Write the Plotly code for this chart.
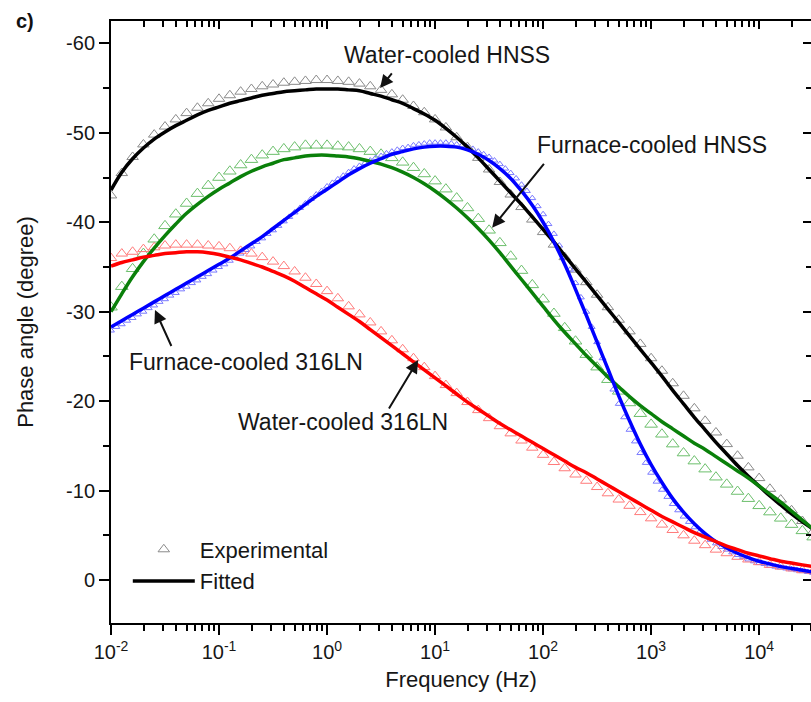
import plotly.graph_objects as go

# log10(frequency / Hz) grid of the measurements
log_f = [-2.0, -1.9, -1.8, -1.7, -1.6, -1.5, -1.4, -1.3, -1.2, -1.1,
         -1.0, -0.9, -0.8, -0.7, -0.6, -0.5, -0.4, -0.3, -0.2, -0.1,
         0.0, 0.1, 0.2, 0.3, 0.4, 0.5, 0.6, 0.7, 0.8, 0.9,
         1.0, 1.1, 1.2, 1.3, 1.4, 1.5, 1.6, 1.7, 1.8, 1.9,
         2.0, 2.1, 2.2, 2.3, 2.4, 2.5, 2.6, 2.7, 2.8, 2.9,
         3.0, 3.1, 3.2, 3.3, 3.4, 3.5, 3.6, 3.7, 3.8, 3.9,
         4.0, 4.1, 4.2, 4.3, 4.4, 4.5]

log_f_dense = [-2.0, -1.95, -1.9, -1.85, -1.8, -1.75, -1.7, -1.65, -1.6, -1.55,
               -1.5, -1.45, -1.4, -1.35, -1.3, -1.25, -1.2, -1.15, -1.1, -1.05,
               -1.0, -0.95, -0.9, -0.85, -0.8, -0.75, -0.7, -0.65, -0.6, -0.55,
               -0.5, -0.45, -0.4, -0.35, -0.3, -0.25, -0.2, -0.15, -0.1, -0.05,
               0.0, 0.05, 0.1, 0.15, 0.2, 0.25, 0.3, 0.35, 0.4, 0.45,
               0.5, 0.55, 0.6, 0.65, 0.7, 0.75, 0.8, 0.85, 0.9, 0.95,
               1.0, 1.05, 1.1, 1.15, 1.2, 1.25, 1.3, 1.35, 1.4, 1.45,
               1.5, 1.55, 1.6, 1.65, 1.7, 1.75, 1.8, 1.85, 1.9, 1.95,
               2.0, 2.05, 2.1, 2.15, 2.2, 2.25, 2.3, 2.35, 2.4, 2.45,
               2.5, 2.55, 2.6, 2.65, 2.7, 2.75, 2.8, 2.85, 2.9, 2.95,
               3.0, 3.05, 3.1, 3.15, 3.2, 3.25, 3.3, 3.35, 3.4, 3.45,
               3.5, 3.55, 3.6, 3.65, 3.7, 3.75, 3.8, 3.85, 3.9, 3.95,
               4.0, 4.05, 4.1, 4.15, 4.2, 4.25, 4.3, 4.35, 4.4, 4.45, 4.5]

# Water-cooled HNSS
wc_hnss_exp = [-43.0, -45.5, -47.3, -48.7, -49.8, -50.7, -51.5, -52.2, -52.8, -53.3,
               -53.8, -54.2, -54.6, -54.9, -55.2, -55.4, -55.6, -55.7, -55.8, -55.9,
               -55.9, -55.8, -55.7, -55.5, -55.2, -54.8, -54.3, -53.7, -53.0, -52.3,
               -51.5, -50.6, -49.5, -48.4, -47.2, -45.9, -44.5, -43.1, -41.7, -40.3,
               -38.9, -37.5, -36.1, -34.7, -33.3, -31.9, -30.5, -29.1, -27.8, -26.4,
               -24.8, -23.4, -22.0, -20.6, -19.2, -17.8, -16.5, -15.2, -13.9, -12.6,
               -11.4, -10.2, -9.0, -7.8, -6.6, -5.4]
wc_hnss_fit = [-43.6, -45.6, -47.1, -48.3, -49.3, -50.1, -50.8, -51.4, -52.0, -52.5,
               -52.9, -53.3, -53.6, -53.9, -54.2, -54.4, -54.6, -54.7, -54.8, -54.9,
               -54.9, -54.9, -54.8, -54.7, -54.4, -54.1, -53.7, -53.3, -52.7, -52.1,
               -51.4, -50.5, -49.5, -48.4, -47.2, -45.9, -44.6, -43.3, -42.0, -40.6,
               -39.2, -37.8, -36.3, -34.8, -33.3, -31.8, -30.3, -28.8, -27.3, -25.8,
               -24.3, -22.8, -21.2, -19.7, -18.2, -16.8, -15.4, -14.1, -12.8, -11.6,
               -10.5, -9.4, -8.4, -7.4, -6.5, -5.7]

# Furnace-cooled HNSS
fc_hnss_exp = [-30.5, -32.8, -34.8, -36.5, -38.1, -39.6, -40.9, -42.1, -43.2, -44.1,
               -45.0, -45.7, -46.4, -47.0, -47.5, -47.9, -48.2, -48.4, -48.6, -48.6,
               -48.6, -48.5, -48.4, -48.2, -47.9, -47.6, -47.2, -46.7, -46.1, -45.4,
               -44.6, -43.7, -42.7, -41.6, -40.4, -39.1, -37.7, -36.2, -34.6, -33.0,
               -31.4, -29.8, -28.2, -26.7, -25.2, -23.8, -22.4, -21.1, -19.8, -18.6,
               -17.4, -16.3, -15.2, -14.2, -13.3, -12.4, -11.5, -10.7, -9.9, -9.1,
               -8.3, -7.6, -6.9, -6.2, -5.5, -4.8]
fc_hnss_fit = [-30.0, -32.0, -33.9, -35.6, -37.1, -38.5, -39.8, -41.0, -42.0, -42.9,
               -43.7, -44.4, -45.1, -45.7, -46.2, -46.6, -47.0, -47.2, -47.4, -47.5,
               -47.5, -47.4, -47.3, -47.1, -46.8, -46.5, -46.1, -45.6, -45.0, -44.3,
               -43.5, -42.6, -41.6, -40.5, -39.3, -38.0, -36.6, -35.1, -33.6, -32.1,
               -30.6, -29.1, -27.7, -26.4, -25.1, -23.9, -22.7, -21.6, -20.5, -19.5,
               -18.6, -17.7, -16.9, -16.1, -15.3, -14.6, -13.8, -13.0, -12.2, -11.4,
               -10.5, -9.6, -8.7, -7.7, -6.7, -5.7]

# Furnace-cooled 316LN (dense measurement)
fc_316_exp = [-27.9, -28.3, -28.6, -29.0, -29.3, -29.7, -30.0, -30.4, -30.7, -31.1,
              -31.4, -31.8, -32.1, -32.5, -32.8, -33.2, -33.5, -33.9, -34.2, -34.6,
              -35.0, -35.3, -35.7, -36.1, -36.5, -36.9, -37.3, -37.8, -38.2, -38.7,
              -39.1, -39.6, -40.1, -40.6, -41.1, -41.6, -42.1, -42.6, -43.1, -43.5,
              -44.0, -44.4, -44.8, -45.2, -45.6, -46.0, -46.3, -46.6, -46.9, -47.2,
              -47.4, -47.7, -47.9, -48.1, -48.3, -48.4, -48.6, -48.7, -48.8, -48.9,
              -48.9, -48.9, -48.9, -48.8, -48.7, -48.6, -48.4, -48.2, -47.9, -47.6,
              -47.3, -46.9, -46.5, -46.0, -45.5, -44.9, -44.2, -43.5, -42.7, -41.8,
              -40.9, -39.8, -38.7, -37.4, -36.1, -34.7, -33.2, -31.6, -30.0, -28.3,
              -26.6, -24.8, -23.0, -21.3, -19.7, -18.2, -16.8, -15.5, -14.2, -13.1,
              -12.0, -11.0, -10.1, -9.3, -8.5, -7.8, -7.1, -6.5, -5.9, -5.4,
              -4.9, -4.5, -4.1, -3.7, -3.4, -3.1, -2.8, -2.6, -2.3, -2.1,
              -1.9, -1.8, -1.6, -1.5, -1.4, -1.3, -1.2, -1.1, -1.0, -0.9, -0.8]
fc_316_fit = [-28.3, -29.0, -29.7, -30.4, -31.1, -31.8, -32.5, -33.2, -33.9, -34.6,
              -35.3, -36.0, -36.8, -37.6, -38.4, -39.3, -40.2, -41.1, -42.0, -42.9,
              -43.7, -44.5, -45.3, -46.0, -46.6, -47.1, -47.6, -47.9, -48.2, -48.4,
              -48.5, -48.5, -48.4, -48.1, -47.6, -46.9, -46.0, -44.9, -43.5, -41.9,
              -40.0, -37.8, -35.3, -32.5, -29.6, -26.6, -23.6, -20.6, -17.8, -15.2,
              -12.9, -10.9, -9.1, -7.6, -6.3, -5.2, -4.3, -3.6, -3.0, -2.5,
              -2.1, -1.8, -1.5, -1.3, -1.1, -0.9]

# Water-cooled 316LN
wc_316_exp = [-36.0, -36.5, -36.7, -37.0, -37.2, -37.4, -37.5, -37.5, -37.5, -37.4,
              -37.3, -37.1, -36.8, -36.5, -36.1, -35.6, -35.1, -34.5, -33.8, -33.1,
              -32.3, -31.5, -30.6, -29.7, -28.8, -27.8, -26.8, -25.8, -24.8, -23.8,
              -22.8, -21.8, -20.9, -19.9, -19.0, -18.1, -17.2, -16.4, -15.6, -14.8,
              -14.0, -13.2, -12.5, -11.8, -11.1, -10.4, -9.7, -9.0, -8.3, -7.6,
              -6.9, -6.2, -5.6, -5.0, -4.4, -3.9, -3.4, -3.0, -2.6, -2.3,
              -2.0, -1.7, -1.5, -1.3, -1.1, -1.0]
wc_316_fit = [-35.1, -35.5, -35.8, -36.1, -36.3, -36.5, -36.6, -36.7, -36.7, -36.6,
              -36.4, -36.1, -35.8, -35.4, -35.0, -34.5, -34.0, -33.4, -32.7, -32.0,
              -31.3, -30.5, -29.7, -28.9, -28.0, -27.1, -26.2, -25.3, -24.4, -23.5,
              -22.6, -21.7, -20.8, -19.9, -19.1, -18.3, -17.5, -16.8, -16.1, -15.4,
              -14.7, -14.0, -13.3, -12.6, -12.0, -11.3, -10.6, -9.9, -9.2, -8.5,
              -7.8, -7.1, -6.5, -5.9, -5.3, -4.8, -4.3, -3.8, -3.4, -3.0,
              -2.7, -2.4, -2.1, -1.9, -1.7, -1.5]

x_tick_vals = [0.01, 0.1, 1, 10, 100, 1000, 10000]
x_tick_text = ["10<sup>-2</sup>", "10<sup>-1</sup>", "10<sup>0</sup>", "10<sup>1</sup>",
               "10<sup>2</sup>", "10<sup>3</sup>", "10<sup>4</sup>"]
x_minor_vals = [m * d for d in [0.01, 0.1, 1, 10, 100, 1000, 10000]
                for m in [2, 3, 4, 5, 6, 7, 8, 9]]
y_tick_vals = [-60, -50, -40, -30, -20, -10, 0]
y_tick_text = ["-60", "-50", "-40", "-30", "-20", "-10", "0"]
y_minor_vals = [-55, -45, -35, -25, -15, -5]

freq = [10 ** v for v in log_f]
freq_dense = [10 ** v for v in log_f_dense]

FONT = "Liberation Sans, Arial, Helvetica, sans-serif"
TXT = "#161616"

series = [
    # name, exp values, exp x, fit values, line colour, marker colour, marker size
    ("Water-cooled HNSS", wc_hnss_exp, freq, wc_hnss_fit, "#000000", "#8a8a8a", 10),
    ("Furnace-cooled HNSS", fc_hnss_exp, freq, fc_hnss_fit, "#0a800a", "#6cbf6c", 11),
    ("Furnace-cooled 316LN", fc_316_exp, freq_dense, fc_316_fit, "#0000ff", "#7a7aff", 6),
    ("Water-cooled 316LN", wc_316_exp, freq, wc_316_fit, "#ff0000", "#ff7a7a", 10),
]

fig = go.Figure()
for name, ey, ex, fy, lc, mc, ms in series:
    fig.add_trace(go.Scatter(x=ex, y=ey, mode="markers", name=name + " exp",
                             showlegend=False,
                             marker=dict(symbol="triangle-up-open", size=ms, color=mc,
                                         line=dict(width=1, color=mc))))
for name, ey, ex, fy, lc, mc, ms in series:
    fig.add_trace(go.Scatter(x=freq, y=fy, mode="lines", name=name + " fit",
                             showlegend=False,
                             line=dict(color=lc, width=3.5, shape="spline")))

# legend entries
fig.add_trace(go.Scatter(x=[None], y=[None], mode="markers", name="Experimental",
                         marker=dict(symbol="triangle-up-open", size=10, color="#8a8a8a",
                                     line=dict(width=1, color="#8a8a8a"))))
fig.add_trace(go.Scatter(x=[None], y=[None], mode="lines", name="Fitted",
                         line=dict(color="#000000", width=3.5)))

# transparent trace that carries the mirrored (top / right) axes
fig.add_trace(go.Scatter(x=[1], y=[-30], xaxis="x2", yaxis="y2", mode="markers",
                         marker=dict(opacity=0), showlegend=False, hoverinfo="skip"))

XR = [-2, 4.48]
YR = [4.8, -62.5]
axis_common = dict(showgrid=False, zeroline=False, showline=True, linecolor="black",
                   linewidth=2, tickcolor="black", tickwidth=2)

fig.update_layout(
    width=811, height=702,
    margin=dict(l=111, r=0, t=21, b=79),
    paper_bgcolor="white", plot_bgcolor="white",
    font=dict(family=FONT, size=20, color=TXT),
    xaxis=dict(type="log", range=XR, tickmode="array", tickvals=x_tick_vals,
               ticktext=x_tick_text, ticks="outside", ticklen=10,
               tickfont=dict(size=20),
               minor=dict(ticks="outside", ticklen=6, tickwidth=1.5, tickcolor="black",
                          tickmode="array", tickvals=x_minor_vals, showgrid=False),
               title=dict(text="Frequency (Hz)", font=dict(size=22), standoff=10),
               **axis_common),
    yaxis=dict(range=YR, tickmode="array", tickvals=y_tick_vals, ticktext=y_tick_text,
               ticks="outside", ticklen=10, tickfont=dict(size=20),
               minor=dict(ticks="outside", ticklen=6, tickwidth=1.5, tickcolor="black",
                          tickmode="array", tickvals=y_minor_vals, showgrid=False),
               title=dict(text="Phase angle (degree)", font=dict(size=22), standoff=26),
               **axis_common),
    xaxis2=dict(type="log", range=XR, overlaying="x", side="top", anchor="y2",
                tickmode="array", tickvals=x_tick_vals, showticklabels=False,
                ticks="inside", ticklen=8,
                minor=dict(ticks="inside", ticklen=6, tickwidth=1.5, tickcolor="black",
                           tickmode="array", tickvals=x_minor_vals, showgrid=False),
                **axis_common),
    yaxis2=dict(range=YR, overlaying="y", side="right", anchor="x2",
                tickmode="array", tickvals=y_tick_vals, showticklabels=False,
                ticks="inside", ticklen=8,
                minor=dict(ticks="inside", ticklen=5, tickwidth=1.5, tickcolor="black",
                           tickmode="array", tickvals=y_minor_vals, showgrid=False),
                **axis_common),
    legend=dict(x=0.024, y=0.157, xanchor="left", yanchor="top",
                bgcolor="rgba(0,0,0,0)", font=dict(size=22, color=TXT),
                tracegroupgap=0, itemwidth=62),
    showlegend=True,
)

ann_font = dict(family=FONT, size=23, color=TXT)
labels = [
    # text, text x (log10 Hz), text y, arrow tail x, tail y, tip x, tip y
    ("Water-cooled HNSS", 1.11, -58.7, 0.611, -56.8, 0.491, -55.0),
    ("Furnace-cooled HNSS", 3.01, -48.6, 2.019, -46.7, 1.528, -39.4),
    ("Furnace-cooled 316LN", -0.75, -24.4, -1.435, -26.0, -1.593, -30.2),
    ("Water-cooled 316LN", 0.148, -17.7, 0.565, -19.0, 0.843, -24.6),
]
for txt, tx, ty, ax_, ay_, hx, hy in labels:
    fig.add_annotation(x=tx, y=ty, xref="x", yref="y", text=txt, showarrow=False,
                       font=ann_font, xanchor="center", yanchor="middle")
    fig.add_annotation(x=hx, y=hy, xref="x", yref="y", ax=ax_, ay=ay_, axref="x",
                       ayref="y", text="", showarrow=True, arrowhead=2, arrowsize=1.3,
                       arrowwidth=2, arrowcolor="#111111")

fig.add_annotation(x=-0.123, y=1.0, xref="paper", yref="paper", text="<b>c)</b>",
                   showarrow=False, font=dict(family=FONT, size=20, color="#111111"),
                   xanchor="center", yanchor="middle")

fig.write_html("out.html")
